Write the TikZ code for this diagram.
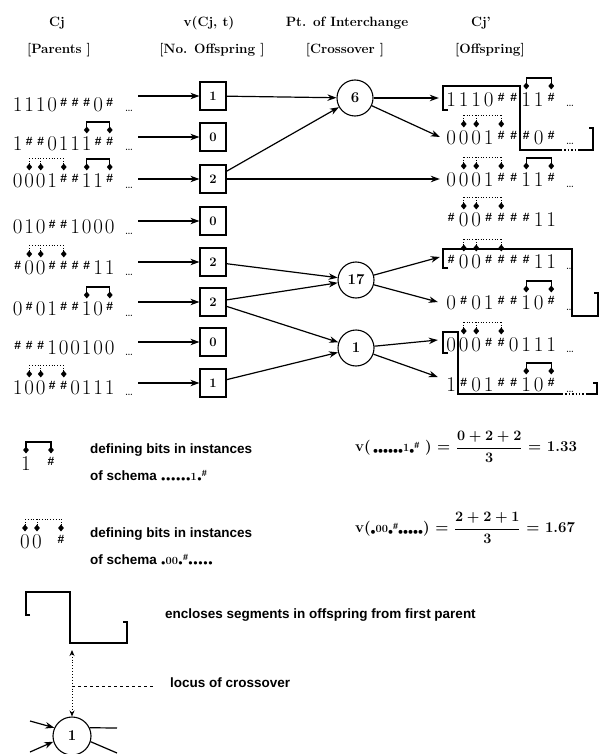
\documentclass[tikz,border=0pt]{standalone}
\usepackage{fontspec}
\usepackage{amsmath}
\usepackage{graphicx}
\usetikzlibrary{arrows.meta,positioning,shapes.geometric,calc}
\newfontfamily\lblfont{Liberation Sans}
\newcommand{\hsh}{\raisebox{5.3pt}{\lblfont\bfseries\fontsize{12}{12}\selectfont\#}}
\newcommand{\hshs}{\raisebox{3.5pt}{\lblfont\bfseries\fontsize{9}{9}\selectfont\#}}
\newcommand{\sdot}{\makebox[5pt]{\raisebox{-1.5pt}{\scalebox{0.6}{$\bullet$}}}}
\newcommand{\snum}[1]{{\rmfamily\fontsize{11}{11}\selectfont #1}}
\newcommand{\bitrow}[5]{%
  \foreach \bitc [count=\pos] in {#5}
    \node[bit,minimum width=#4pt] (#1-\pos) at ({#2+(\pos-0.5)*#4},#3) {\bitc};}
\newcommand{\solidmark}[3]{%
  \draw[mk] ([yshift=14pt]#1-#2.center) -- ([yshift=22pt]#1-#2.center) -- ([yshift=22pt]#1-#3.center) -- ([yshift=14pt]#1-#3.center);
  \node[dia] (#1-m#2) at ([yshift=14pt]#1-#2.center) {};
  \node[dia] (#1-m#3) at ([yshift=14pt]#1-#3.center) {};}
\newcommand{\dotmark}[4]{%
  \draw[mkd] ([yshift=23pt]#1-#2.center) -- ([yshift=23pt]#1-#4.center);
  \foreach \pos in {#2,#3,#4}{
    \draw[mkd] ([yshift=14pt]#1-\pos.center) -- ([yshift=23pt]#1-\pos.center);
    \node[dia] (#1-m\pos) at ([yshift=14pt]#1-\pos.center) {};}}
\tikzset{
  bit/.style={inner sep=0pt,text height=13.5pt,text depth=0pt,font=\fontsize{21}{24}\selectfont},
  ell/.style={inner sep=0pt,font=\fontsize{13}{14}\selectfont,anchor=base},
  head/.style={inner sep=0pt,font=\fontsize{13.5}{16}\selectfont\bfseries},
  numbox/.style={draw,line width=1.2pt,minimum width=26pt,minimum height=28pt,inner sep=0pt,font=\fontsize{13}{15}\selectfont\bfseries},
  xnode/.style={circle,draw,line width=1.1pt,minimum size=36pt,inner sep=0pt,font=\fontsize{15}{17}\selectfont\bfseries},
  arr/.style={-{Stealth[length=9pt,width=6.5pt]},line width=1.2pt},
  wire/.style={line width=1.2pt},
  encl/.style={line width=1.4pt},
  mk/.style={line width=1.3pt},
  mkd/.style={dotted,line width=0.8pt},
  dia/.style={diamond,fill,inner sep=0pt,minimum width=6pt,minimum height=7pt},
  locus/.style={dotted,line width=0.9pt,{Stealth[length=6pt,width=5pt]}-{Stealth[length=6pt,width=5pt]}},
  lbl/.style={inner sep=0pt,font=\lblfont\bfseries\fontsize{13.5}{16}\selectfont},
  fml/.style={inner sep=0pt,font=\fontsize{15}{18}\selectfont\bfseries\boldmath},
}
\begin{document}
\begin{tikzpicture}[x=1pt,y=-1pt]
\useasboundingbox[fill=white] (0,0) rectangle (601,754);

\node[head] (hc) at (57,23) {Cj};
\node[head] (hp) at (59,50) {[Parents ]};
\node[head] (hv) at (209,23) {v(Cj, t)};
\node[head] (hn) at (212,50) {[No. Offspring ]};
\node[head] (hi) at (347,23) {Pt. of Interchange};
\node[head] (hx) at (345,50) {[Crossover ]};
\node[head] (hc2) at (481,23) {Cj'};
\node[head] (ho) at (490,50) {[Offspring]};

\bitrow{p1}{12}{105}{11.5}{1,1,1,0,\hsh,\hsh,\hsh,0,\hsh}
\bitrow{p2}{12}{144}{11.5}{1,\hsh,\hsh,0,1,1,1,\hsh,\hsh}
\bitrow{p3}{12}{181}{11.5}{0,0,0,1,\hsh,\hsh,1,1,\hsh}
\bitrow{p4}{12}{227}{11.5}{0,1,0,\hsh,\hsh,1,0,0,0}
\bitrow{p5}{12}{268}{11.5}{\hsh,0,0,\hsh,\hsh,\hsh,\hsh,1,1}
\bitrow{p6}{12}{309}{11.5}{0,\hsh,0,1,\hsh,\hsh,1,0,\hsh}
\bitrow{p7}{12}{348}{11.5}{\hsh,\hsh,\hsh,1,0,0,1,0,0}
\bitrow{p8}{12}{388}{11.5}{1,0,0,\hsh,\hsh,0,1,1,1}
\solidmark{p2}{7}{9}
\dotmark{p3}{2}{3}{5}
\solidmark{p3}{7}{9}
\dotmark{p5}{2}{3}{5}
\solidmark{p6}{7}{9}
\dotmark{p8}{2}{3}{5}
\foreach \y [count=\i] in {112,151,188,234,275,316,355,395}
  \node[ell] (pd\i) at (129,\y) {\ldots};

\node[numbox] (n1) at (213,96) {1};
\node[numbox] (n2) at (213,137) {0};
\node[numbox] (n3) at (213,179) {2};
\node[numbox] (n4) at (213,221) {0};
\node[numbox] (n5) at (213,262) {2};
\node[numbox] (n6) at (213,302) {2};
\node[numbox] (n7) at (213,342) {0};
\node[numbox] (n8) at (213,383) {1};
\foreach \i in {1,...,8}
  \draw[arr] ($(pd\i.east |- n\i)+(5,0)$) -- (n\i);

\node[xnode] (cA) at (355,98) {6};
\node[xnode] (cB) at (356,280) {17};
\node[xnode] (cC) at (356,348) {1};

\bitrow{o1}{445}{100}{12.5}{1,1,1,0,\hsh,\hsh,1,1,\hsh}
\bitrow{o2}{445}{138}{12.5}{0,0,0,1,\hsh,\hsh,\hsh,0,\hsh}
\bitrow{o3}{445}{180}{12.5}{0,0,0,1,\hsh,\hsh,1,1,\hsh}
\bitrow{o4}{445}{220}{12.5}{\hsh,0,0,\hsh,\hsh,\hsh,\hsh,1,1}
\bitrow{o5}{445}{262}{12.5}{\hsh,0,0,\hsh,\hsh,\hsh,\hsh,1,1}
\bitrow{o6}{445}{303}{12.5}{0,\hsh,0,1,\hsh,\hsh,1,0,\hsh}
\bitrow{o7}{445}{345}{12.5}{0,0,0,\hsh,\hsh,0,1,1,1}
\bitrow{o8}{445}{385}{12.5}{1,\hsh,0,1,\hsh,\hsh,1,0,\hsh}
\solidmark{o1}{7}{9}
\dotmark{o2}{2}{3}{5}
\dotmark{o3}{2}{3}{5}
\solidmark{o3}{7}{9}
\dotmark{o4}{2}{3}{5}
\dotmark{o5}{2}{3}{5}
\solidmark{o6}{7}{9}
\dotmark{o7}{2}{3}{5}
\solidmark{o8}{7}{9}
\node[ell] (od1) at (570,107) {\ldots};
\node[ell] (od2) at (570,145) {\ldots};
\node[ell] (od3) at (570,187) {\ldots};
\node[ell] (od5) at (570,269) {\ldots};
\node[ell] (od6) at (570,310) {\ldots};
\node[ell] (od7) at (570,352) {\ldots};
\node[ell] (od8) at (570,392) {\ldots};

\draw[arr] (n1) -- (cA);
\draw[arr] (n3) -- (cA);
\draw[arr] (n3.east) -- ($(o3-1.west |- n3)+(-5,0)$);
\draw[arr] (n5) -- (cB);
\draw[arr] (n6) -- (cB);
\draw[arr] (n6) -- (cC);
\draw[arr] (n8) -- (cC);
\draw[arr] (cA) -- ($(o1-1.west)+(-6,-2)$);
\draw[arr] (cA) -- ($(o2-1.west)+(-5,-1)$);
\draw[arr] (cB) -- ($(o5-1.west)+(-5,-5)$);
\draw[arr] (cB) -- ($(o6-1.west)+(-7,-1)$);
\draw[arr] (cC) -- ($(o7-1.west)+(-7,-5)$);
\draw[arr] (cC) -- ($(o8-1.west)+(-7,-8)$);

\draw[encl] (448,110) -- (443,110) -- (443,86) -- (520,86) -- (520,150) -- (561,150);
\draw[encl,dotted] (561,150) -- (579,150);
\draw[encl] (579,150) -- (593,150) -- (593,128) -- (589,128);
\draw[encl] (448,268) -- (443,268) -- (443,249) -- (572,249) -- (572,316) -- (598,316) -- (598,293) -- (594,293);
\draw[encl] (448,353) -- (443,353) -- (443,332) -- (458,332) -- (458,394) -- (562,394);
\draw[encl,dotted] (562,394) -- (587,394);
\draw[encl] (587,394) -- (597,394) -- (597,383) -- (593,383);

\bitrow{ls}{19.75}{464}{12.5}{1,{},\hsh}
\solidmark{ls}{1}{3}
\node[lbl,anchor=west] (t1) at (90,450) {defining bits in instances};
\node[lbl,anchor=west] (t2) at (90,476) {of schema \sdot\sdot\sdot\sdot\sdot\sdot\snum{1}\sdot\hshs};
\node[fml,anchor=west] (f1) at (355,447) {v(\,\sdot\sdot\sdot\sdot\sdot\sdot\snum{1}\sdot\hshs\ ) = $\displaystyle\frac{0+2+2}{3}$ = 1.33};

\bitrow{ld}{19}{542}{12}{0,0,{},\hsh}
\dotmark{ld}{1}{2}{4}
\node[lbl,anchor=west] (t3) at (90,534) {defining bits in instances};
\node[lbl,anchor=west] (t4) at (90,560) {of schema \sdot\snum{00}\sdot\hshs\sdot\sdot\sdot\sdot\sdot};
\node[fml,anchor=west] (f2) at (355,528) {v(\sdot\snum{00}\sdot\hshs\sdot\sdot\sdot\sdot\sdot) = $\displaystyle\frac{2+2+1}{3}$ = 1.67};

\draw[encl] (30,615) -- (26,615) -- (26,592) -- (70,592) -- (70,643) -- (127,643) -- (127,622) -- (123,622);
\node[lbl,anchor=west] (t5) at (165,615) {encloses segments in offspring from first parent};

\node[xnode,minimum size=38pt] (lc) at (72,736) {1};
\coordinate (lq) at (72,650);
\draw[locus] (lq) -- (lc.north);
\coordinate (lm) at (72,686);
\node[lbl,anchor=west] (t6) at (170,683) {locus of crossover};
\draw[dashed,line width=0.8pt] (lm) -- ($(t6.west |- lm)+(-15,0)$);
\coordinate (li1) at (30,721);
\coordinate (li2) at (30,752);
\coordinate (lo1) at (117,728);
\coordinate (lo2) at (117,753);
\draw[arr] (li1) -- (lc.155);
\draw[arr] (li2) -- (lc.197);
\draw[wire] (lc.25) -- (lo1);
\draw[wire] (lc.-17) -- (lo2);
\end{tikzpicture}
\end{document}
